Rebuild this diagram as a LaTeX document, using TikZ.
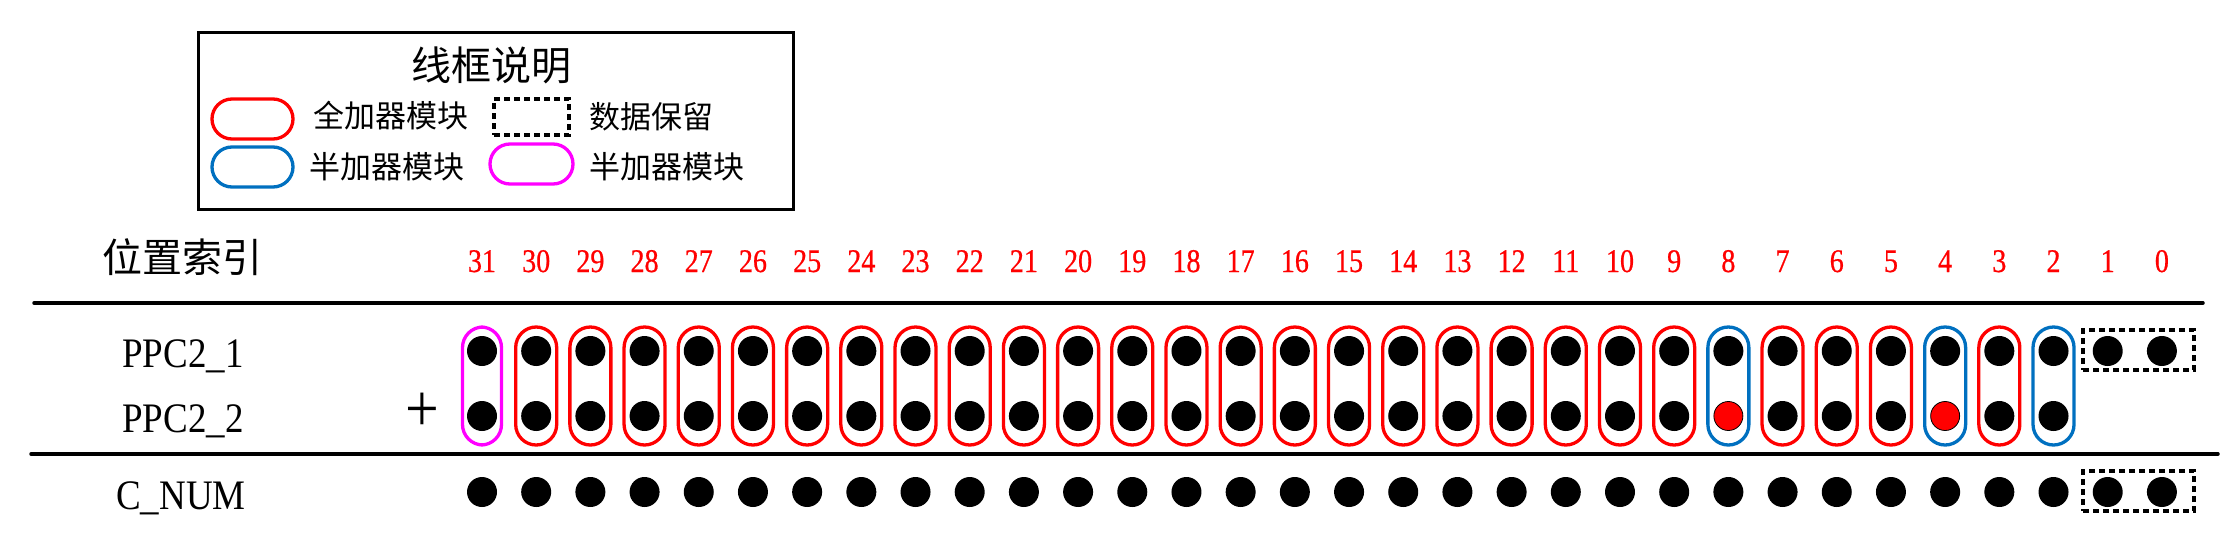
\documentclass[tikz,border=0pt]{standalone}
\usepackage{fontspec}
\setmainfont{Liberation Serif}
\newfontfamily\cjk{Noto Sans CJK SC}
\newfontfamily\lat[FakeStretch=0.88]{Liberation Serif}
\newfontfamily\digits[FakeStretch=0.85,FakeBold=0.6]{Liberation Serif}
\definecolor{fullred}{RGB}{255,0,0}
\definecolor{halfblue}{RGB}{0,112,192}
\definecolor{halfmag}{RGB}{255,0,255}
\begin{document}
\begin{tikzpicture}[x=1pt,y=-1pt,
  dot/.style={circle, fill=black, minimum size=30pt, inner sep=0pt},
  reddot/.style={circle, fill=fullred, draw=black, line width=0.8pt, minimum size=29pt, inner sep=0pt},
  capsule/.style={rectangle, rounded corners=20.5pt, line width=3.3pt, minimum width=41pt, minimum height=118pt, inner sep=0pt},
  hcapsule/.style={rectangle, rounded corners=20pt, line width=3.3pt, minimum width=81pt, minimum height=40pt, inner sep=0pt},
  keepbox/.style={rectangle, draw=black, dash pattern=on 6pt off 4pt, line width=3.2pt, inner sep=0pt},
  idx/.style={font=\digits\fontsize{33}{38}\selectfont, text=fullred, anchor=base},
  rowlab/.style={font=\lat\fontsize{42}{48}\selectfont, anchor=base},
  cjkbig/.style={font=\cjk\fontsize{40}{48}\selectfont},
  cjksmall/.style={font=\cjk\fontsize{31}{36}\selectfont},
  rule/.style={line width=3.5pt, line cap=round}
]
\useasboundingbox (0,0) rectangle (2230,552);

% legend
\node[draw=black, line width=2.5pt, minimum width=595pt, minimum height=177pt, anchor=north west, inner sep=0pt] (legend) at (197,31) {};
\node[cjkbig] (title) at (491,65) {线框说明};
\node[hcapsule, draw=fullred] (lgfull) at (252.5,119) {};
\node[cjksmall] (lgfulltxt) at (391,116) {全加器模块};
\node[keepbox, minimum width=75pt, minimum height=36pt] (lgkeep) at (531.5,117) {};
\node[cjksmall] (lgkeeptxt) at (651,117) {数据保留};
\node[hcapsule, draw=halfblue] (lghalf) at (252.5,167) {};
\node[cjksmall] (lghalftxt) at (387,167) {半加器模块};
\node[hcapsule, draw=halfmag, minimum width=83pt] (lgmag) at (531.5,164) {};
\node[cjksmall] (lgmagtxt) at (667,167) {半加器模块};

% row labels
\node[cjkbig] (pos) at (182,257) {位置索引};
\node[rowlab] (ppc1) at (183,367) {PPC2\_1};
\node[rowlab] (ppc2) at (183,432) {PPC2\_2};
\node[rowlab] (cnum) at (181,509) {C\_NUM};
\node[font=\lat\fontsize{68}{72}\selectfont, inner sep=0pt] (plus) at (422,412) {+};

% rules
\coordinate (r1a) at (34,303);
\coordinate (r1b) at (2203,303);
\coordinate (r2a) at (31,454);
\coordinate (r2b) at (2218,454);
\draw[rule] (r1a) -- (r1b);
\draw[rule] (r2a) -- (r2b);

% columns
\foreach \i in {0,...,31} {
  \pgfmathsetmacro{\cx}{482+(31-\i)*54.19}
  \node[idx] (n\i) at (\cx,272) {\i};
  \node[dot] (t\i) at (\cx,351) {};
  \node[dot] (c\i) at (\cx,492) {};
}
\foreach \i in {2,...,31} {
  \pgfmathsetmacro{\cx}{482+(31-\i)*54.19}
  \ifnum\i=8
    \node[reddot] (b\i) at (\cx,416) {};
  \else\ifnum\i=4
    \node[reddot] (b\i) at (\cx,416) {};
  \else
    \node[dot] (b\i) at (\cx,416) {};
  \fi\fi
}
% adder capsules
\foreach \i in {3,5,6,7,9,10,...,30} {
  \pgfmathsetmacro{\cx}{482+(31-\i)*54.19}
  \node[capsule, draw=fullred] (k\i) at (\cx,386) {};
}
\foreach \i in {2,4,8} {
  \pgfmathsetmacro{\cx}{482+(31-\i)*54.19}
  \node[capsule, draw=halfblue] (k\i) at (\cx,386) {};
}
\node[capsule, draw=halfmag, minimum width=39pt] (k31) at (482,386) {};

% kept data
\node[keepbox, minimum width=111pt, minimum height=40pt] (keeptop) at (2138.5,350) {};
\node[keepbox, minimum width=111pt, minimum height=40pt] (keepbot) at (2138.5,491) {};
\end{tikzpicture}
\end{document}
